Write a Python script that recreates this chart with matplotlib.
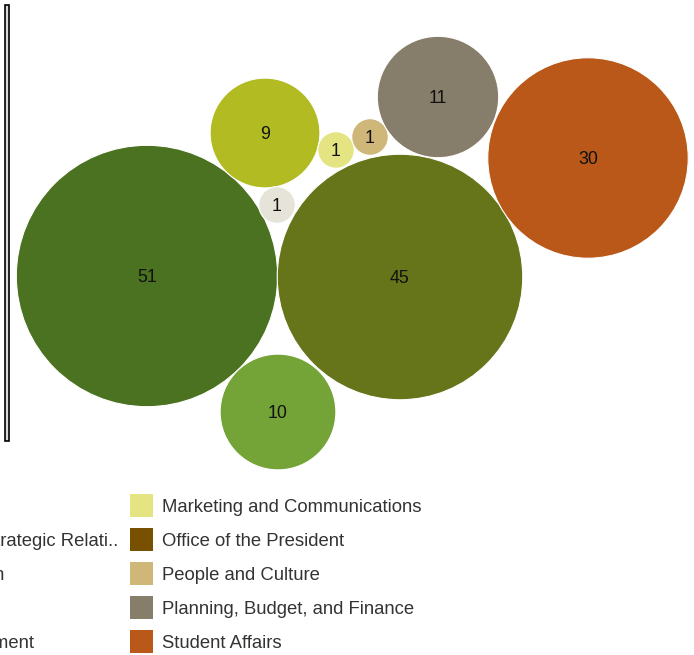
import numpy as np
import matplotlib
matplotlib.use("Agg")
import matplotlib.pyplot as plt
from matplotlib.patches import Circle, Rectangle

plt.rcParams['font.family'] = ['Liberation Sans', 'DejaVu Sans']

# departments (legend order) and counts
left_names = ["Academic Affairs", "Advancement and Strategic Relati..",
              "Continuing Education", "Athletics", "Information Management"]
right_names = ["Marketing and Communications", "Office of the President",
               "People and Culture", "Planning, Budget, and Finance", "Student Affairs"]
left_colors = ["#4b7220", "#67751a", "#74a337", "#b2bb21", "#e6e4d8"]
right_colors = ["#e4e582", "#775100", "#cfb679", "#877d6b", "#ba5819"]

# bubble values (same order as left_names + right_names), None = not shown
values = [51, 45, 10, 9, 1, 1, None, 1, 11, 30]

# packed layout centres in pixels (from the packing, not data)
centers = [(147, 276), (400, 277), (278, 412), (265, 133), (277, 205),
           (336, 150), None, (370, 137), (438, 97), (588, 158)]
px_per_unit = 18.3

W, H = 694, 655
fig = plt.figure(figsize=(W / 100, H / 100), dpi=100)
ax = fig.add_axes([0, 0, 1, 1])
ax.set_xlim(0, W)
ax.set_ylim(H, 0)
ax.set_aspect('equal')
ax.axis('off')

def pt2px(pt):
    return pt * 100 / 72

label_fs = 12.8
colors = left_colors + right_colors
for v, c, col in zip(values, centers, colors):
    if v is None:
        continue
    r = px_per_unit * np.sqrt(v)
    ax.add_patch(Circle(c, r, facecolor=col, edgecolor='white', linewidth=0.8))
    ax.text(c[0], c[1] + 0.358 * pt2px(label_fs), str(v), ha='center', va='baseline',
            fontsize=label_fs, color='#111111')

# scrollbar remnant on the left
ax.add_patch(Rectangle((5.5, 4.5), 3.5, 436, facecolor='#d9d9d9', edgecolor='black', linewidth=1.2))

# legend
row_y = [505.5, 539.5, 573.5, 607.5, 641.5]
fs = 13.35
renderer = fig.canvas.get_renderer()
probe = ax.text(0, 0, left_names[1], fontsize=fs)
bb = probe.get_window_extent(renderer=renderer)
probe.remove()
left_x = 118 - bb.width
for y, name in zip(row_y, left_names):
    ax.text(left_x, y + 0.358 * pt2px(fs), name, ha='left', va='baseline',
            fontsize=fs, color='#333333')
for y, name, col in zip(row_y, right_names, right_colors):
    ax.add_patch(Rectangle((130, y - 11.5), 23, 23, facecolor=col, edgecolor='none'))
    ax.text(162, y + 0.358 * pt2px(fs), name, ha='left', va='baseline',
            fontsize=fs, color='#333333')

fig.savefig("out.png", dpi=100)
